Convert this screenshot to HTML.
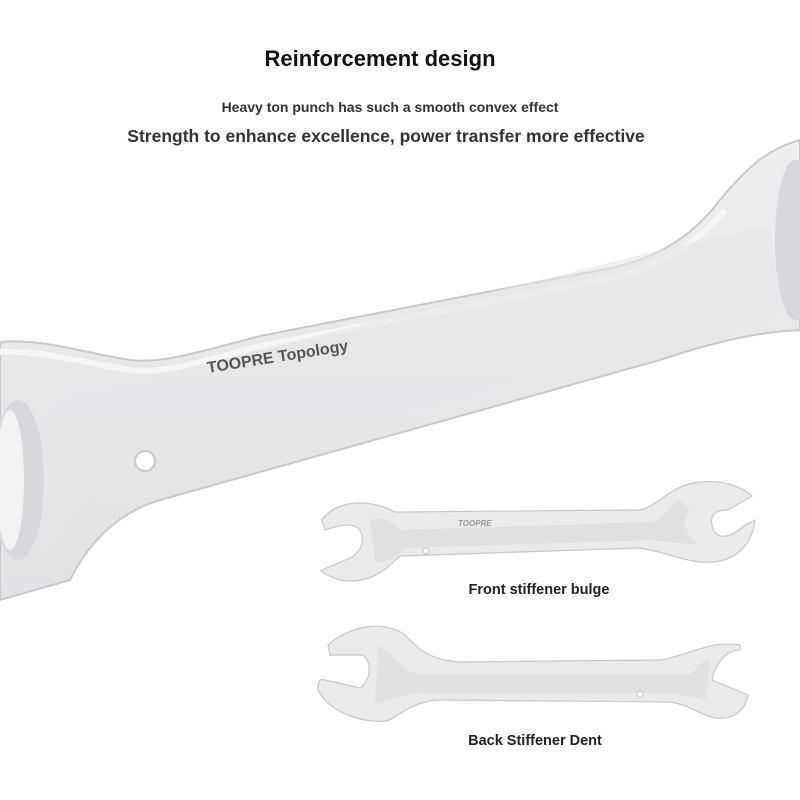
<!DOCTYPE html>
<html><head><meta charset="utf-8"><style>
html,body{margin:0;padding:0;background:#fff;}
body{width:800px;height:800px;position:relative;overflow:hidden;font-family:"Liberation Sans",sans-serif;}
.t{position:absolute;text-align:center;font-weight:bold;color:#222;white-space:nowrap;}
</style></head><body>
<svg width="800" height="800" style="position:absolute;left:0;top:0">
<defs>
<linearGradient id="g" x1="0" y1="0" x2="0" y2="1"><stop offset="0" stop-color="#eeeef0"/><stop offset="1" stop-color="#e2e2e5"/></linearGradient>
</defs>
<path d="M0,342 C40,338 80,352 130,360 C160,364 200,352 260,336 L600,270 C650,262 690,240 720,200 C745,170 765,150 800,140 L800,330 C760,332 720,340 660,360 L160,500 C120,512 90,540 70,580 L0,600 Z" fill="url(#g)" stroke="#c9c9cc" stroke-width="2"/>
<path d="M0,352 C40,350 80,362 130,370 C165,374 200,362 260,346 L600,280 C650,272 690,250 725,210" fill="none" stroke="#f6f6f7" stroke-width="6"/>
<path d="M40,420 C60,400 70,395 90,392 L640,255 L770,225 L780,320 L150,470 C110,478 80,500 60,540 C40,560 30,560 30,540 Z" fill="#e6e6e9" opacity="0.6"/>
<ellipse cx="18" cy="480" rx="26" ry="80" fill="#d8d8dc"/>
<ellipse cx="10" cy="480" rx="14" ry="70" fill="#f3f3f4"/>
<ellipse cx="795" cy="240" rx="20" ry="80" fill="#d8d8dc"/>
<circle cx="145" cy="461" r="10" fill="#fff" stroke="#c8c8cc" stroke-width="2"/>
<text x="208" y="373" transform="rotate(-9 208 373)" font-family="Liberation Sans,sans-serif" font-weight="bold" font-size="16" fill="#555">TOOPRE Topology</text>
<path d="M322,520 C335,500 370,498 395,512 L640,510 C660,505 670,485 700,482 C720,480 740,485 752,496 L728,510 C715,510 710,515 712,525 C715,540 728,540 745,525 L755,520 C752,545 735,565 700,562 C680,560 665,552 640,548 L400,556 C385,570 370,585 340,580 C325,575 318,570 322,570 L352,557 C362,550 365,540 360,530 C352,522 340,525 325,530 Z" fill="#eaeaec" stroke="#c8c8cc" stroke-width="1.2"/>
<path d="M370,520 C385,515 395,525 400,530 L650,522 C665,520 670,505 680,500 L690,510 C680,520 685,535 700,545 L650,540 L405,548 C395,560 380,565 375,560" fill="#dedee1" opacity="0.8"/>
<circle cx="426" cy="551" r="3" fill="#fff" stroke="#bbb" stroke-width="0.8"/>
<text x="458" y="526" font-family="Liberation Sans,sans-serif" font-weight="bold" font-style="italic" font-size="8" fill="#999">TOOPRE</text>
<path d="M328,645 C350,625 385,620 405,635 C420,650 430,660 460,662 L660,660 C690,655 710,640 740,645 L740,650 C725,650 715,665 712,680 L748,695 C745,710 735,720 715,718 C700,715 690,705 670,702 L440,700 C420,700 405,710 390,720 C370,725 330,715 318,690 C318,680 320,678 325,680 L360,688 C372,680 372,660 362,655 L330,655 Z" fill="#eaeaec" stroke="#c8c8cc" stroke-width="1.2"/>
<path d="M378,645 C395,655 400,670 420,675 L690,675 C700,665 700,660 710,660 L706,700 L670,693 L420,693 C400,695 385,700 375,705" fill="#dedee1" opacity="0.7"/>
<circle cx="640" cy="694" r="3" fill="#fff" stroke="#bbb" stroke-width="0.8"/>
</svg>
<div class="t" style="top:46px;left:0;width:760px;font-size:22px;color:#111">Reinforcement design</div>
<div class="t" style="top:99px;left:0;width:780px;font-size:14px;color:#333">Heavy ton punch has such a smooth convex effect</div>
<div class="t" style="top:126px;left:0;width:772px;font-size:17.5px;color:#333">Strength to enhance excellence, power transfer more effective</div>
<div class="t" style="top:582px;left:310px;width:458px;font-size:14.5px">Front stiffener bulge</div>
<div class="t" style="top:733px;left:318px;width:434px;font-size:14.5px">Back Stiffener Dent</div>
</body></html>
